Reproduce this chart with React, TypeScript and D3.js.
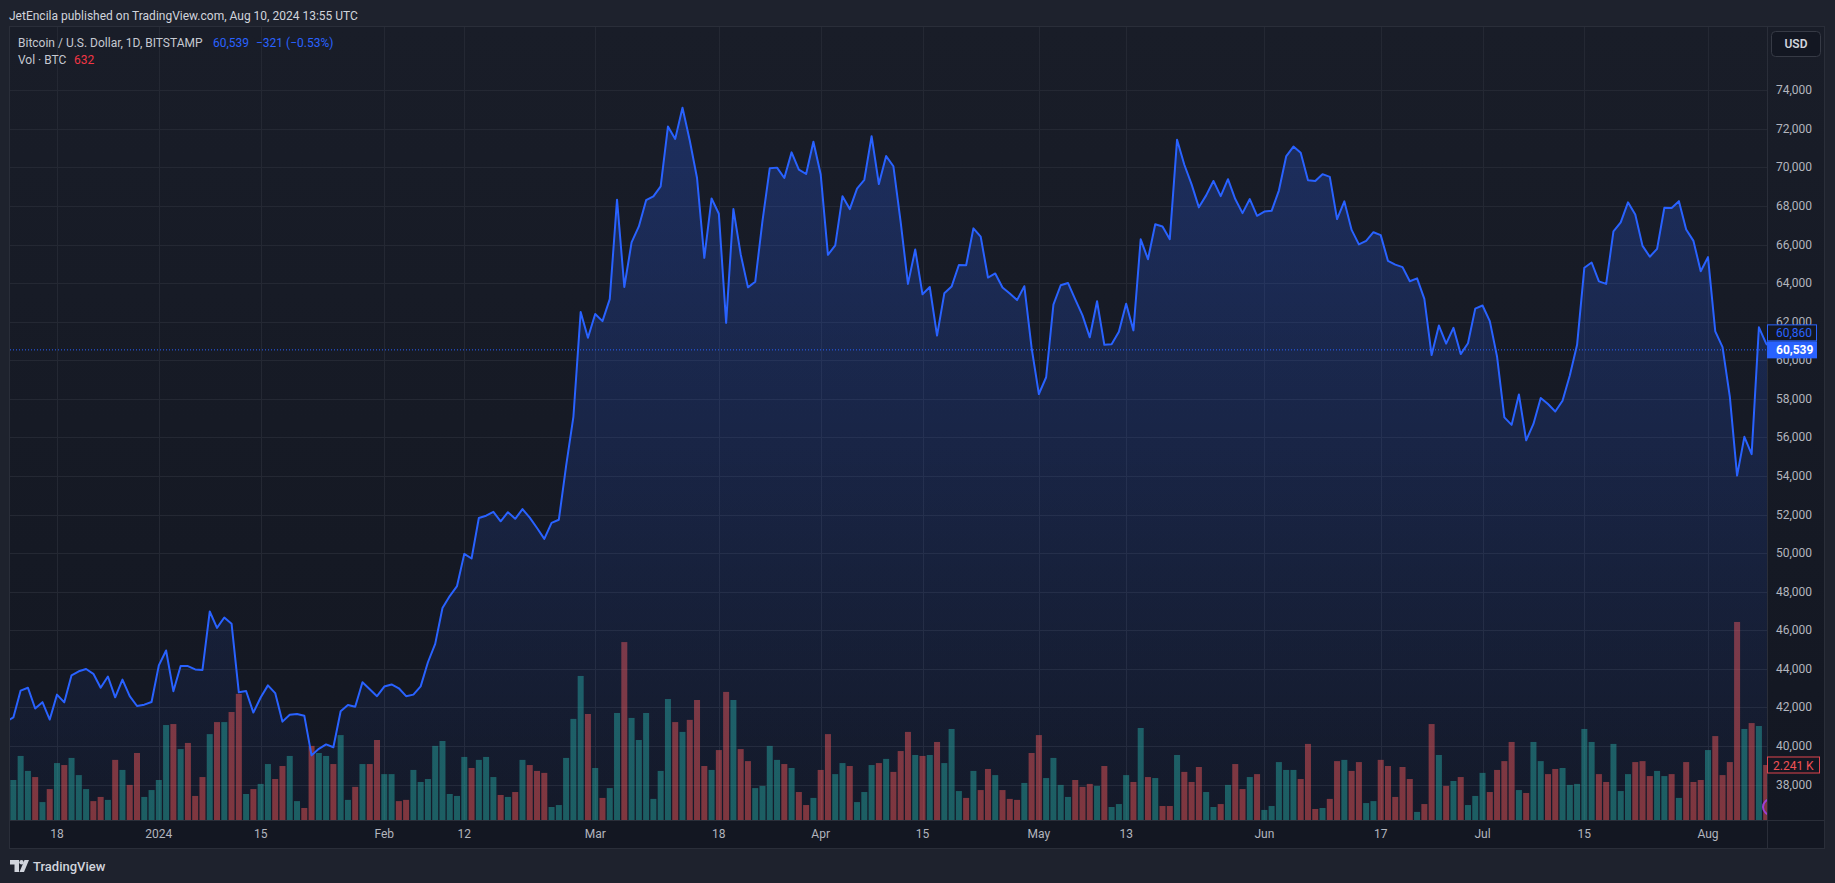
import React from 'react';
import * as d3 from 'd3';

// daily closes, BITSTAMP BTCUSD, Dec 11 2023 .. Aug 10 2024
const closes: number[] = [
  // Dec
  41250, 41480, 42870, 43020, 41940, 42270, 41370, 42660, 42260, 43660, 43870, 43990, 43740, 43020, 43600, 42520, 43440, 42580, 42070, 42140, 42280,
  // Jan
  44180, 44950, 42840, 44150, 44140, 43970, 43940, 46970, 46120, 46660, 46340, 42780, 42850, 41730, 42510, 43140, 42740, 41260, 41620, 41660, 41570, 39510, 39850, 40080, 39930, 41800, 42120, 42030, 43300, 42940, 42580,
  // Feb
  43080, 43190, 42990, 42580, 42660, 43090, 44340, 45290, 47150, 47770, 48290, 49960, 49720, 51820, 51940, 52140, 51650, 52120, 51780, 52280, 51840, 51300, 50740, 51570, 51730, 54520, 57060, 62500, 61170,
  // Mar
  62400, 62030, 63170, 68330, 63800, 66110, 66940, 68300, 68500, 69020, 72120, 71480, 73100, 71400, 69450, 65310, 68390, 67600, 61940, 67840, 65500, 63780, 64070, 67230, 69960, 69990, 69450, 70780, 69890, 69660, 71330,
  // Apr
  69650, 65470, 65960, 68510, 67840, 68900, 69360, 71620, 69140, 70590, 70060, 67160, 63960, 65740, 63420, 63800, 61280, 63470, 63820, 64940, 64930, 66840, 66410, 64290, 64500, 63770, 63460, 63120, 63840, 60640,
  // May
  58250, 59120, 62890, 63890, 64010, 63160, 62330, 61190, 63060, 60800, 60830, 61480, 62930, 61550, 66270, 65240, 67050, 66940, 66280, 71440, 70140, 69120, 67930, 68550, 69300, 68510, 69390, 68360, 67630, 68360, 67490,
  // Jun
  67710, 67750, 68800, 70570, 71080, 70760, 69340, 69300, 69650, 69510, 67320, 68240, 66760, 66010, 66190, 66640, 66490, 65150, 64960, 64830, 64100, 64250, 63180, 60270, 61800, 60860, 61680, 60320, 60880, 62680,
  // Jul
  62840, 62030, 60180, 57040, 56650, 58230, 55850, 56700, 58040, 57730, 57340, 57900, 59210, 60800, 64800, 65070, 64090, 63960, 66680, 67150, 68190, 67560, 65930, 65370, 65780, 67910, 67900, 68250, 66780, 66190, 64620,
  // Aug
  65350, 61500, 60680, 58110, 54020, 56030, 55130, 61710, 60860, 60539,
];

// daily volume in BTC, same days
const volumes: number[] = [
  3260, 1630, 2610, 2000, 1750, 730, 1260, 2320, 2240, 2530, 1830, 1260, 770, 940, 820, 2450, 2040, 1430, 2730, 940, 1220,
  1630, 3870, 3910, 2890, 3140, 980, 1750, 3500, 3990, 3990, 4400, 5140, 1060, 1260, 1470, 2280, 1670, 2200, 2610, 770, 490, 3020, 2730, 2610, 2280, 3460, 820, 1350, 2280, 2280, 3260,
  1870, 1870, 770, 820, 2040, 1550, 1670, 3020, 3220, 1060, 980, 2570, 2120, 2450, 2570, 1750, 1020, 940, 1140, 2450, 2240, 2000, 1920, 530, 610, 2530, 4120, 5870, 4320,
  2120, 900, 1300, 4360, 7250, 4160, 3260, 4360, 860, 2000, 4930, 3990, 3590, 4080, 4890, 2200, 2040, 2850, 5220, 4890, 2890, 2400, 1300, 1390, 3020, 2450, 2280, 2120, 1140, 610, 900,
  2040, 3500, 1870, 2320, 2200, 730, 1140, 2240, 2320, 2490, 1960, 2810, 3590, 2650, 2610, 2650, 3180, 2320, 3710, 1180, 900, 2000, 1220, 2080, 1830, 1220, 860, 820, 1510, 2730,
  3460, 1710, 2530, 1430, 940, 1630, 1350, 1470, 1390, 2200, 530, 650, 1830, 1550, 3750, 1750, 1710, 570, 570, 2650, 1960, 1550, 2160, 1140, 530, 650, 1430, 2280, 1260, 1750, 1870,
  410, 570, 2360, 2040, 2040, 1670, 3100, 450, 490, 860, 2400, 2450, 2000, 2360, 690, 770, 2450, 2200, 940, 2160, 1670, 330, 650, 3910, 2650, 1390, 1590, 1750, 610, 980,
  1920, 1140, 2040, 2400, 3180, 1220, 1100, 3180, 2400, 1870, 2080, 2120, 1430, 1470, 3710, 3180, 1870, 1550, 3100, 1180, 1870, 2360, 2400, 1790, 2000, 1790, 1870, 900, 2360, 1550, 1630,
  2850, 3420, 1830, 2360, 8070, 3710, 3950, 3830, 2241, 632,
];

const priceTicks = [38000, 40000, 42000, 44000, 46000, 48000, 50000, 52000, 54000, 56000, 58000, 60000, 62000, 64000, 66000, 68000, 70000, 72000, 74000];

const timeTicks: [string, string][] = [
  ['2023-12-18', '18'], ['2024-01-01', '2024'], ['2024-01-15', '15'], ['2024-02-01', 'Feb'],
  ['2024-02-12', '12'], ['2024-03-01', 'Mar'], ['2024-03-18', '18'], ['2024-04-01', 'Apr'],
  ['2024-04-15', '15'], ['2024-05-01', 'May'], ['2024-05-13', '13'], ['2024-06-01', 'Jun'],
  ['2024-06-17', '17'], ['2024-07-01', 'Jul'], ['2024-07-15', '15'], ['2024-08-01', 'Aug'],
];

const prevCloseMarker = 60860;

interface Bar {
  date: Date;
  close: number;
  volume: number;
  up: boolean;
}

const W = 1835;
const H = 883;
const FONT = 'Roboto, "Noto Sans", sans-serif';

// pane geometry
const paneLeft = 10;
const paneTop = 27;
const plotRight = 1767;
const paneRight = 1824;
const plotBottom = 820;
const paneBottom = 848;

const startDay = Date.UTC(2023, 11, 11);
const bars: Bar[] = closes.map((c, i) => ({
  date: new Date(startDay + i * 86400000),
  close: c,
  volume: volumes[i],
  up: i > 0 && c > closes[i - 1],
}));

const App: React.FC = () => {
  const x = d3.scaleUtc()
    .domain([new Date('2023-12-18T00:00:00Z'), new Date('2024-08-01T00:00:00Z')])
    .range([57, 1708]);
  const y = d3.scaleLinear().domain([38000, 74000]).range([784.5, 90.3]);
  const yVol = d3.scaleLinear().domain([0, 10000]).range([plotBottom, plotBottom - 245.4]);

  const line = d3.line<Bar>().x(d => x(d.date)).y(d => y(d.close));
  const area = d3.area<Bar>().x(d => x(d.date)).y0(plotBottom).y1(d => y(d.close));

  const fmt = d3.format(',');
  const last = closes[closes.length - 1];
  const prev = closes[closes.length - 2];
  const chg = last - prev;
  const pct = (chg / prev) * 100;
  const minus = (v: number) => (v < 0 ? '\u2212' : '+') + Math.abs(v).toFixed(2);
  const chgText = `${chg < 0 ? '\u2212' : '+'}${fmt(Math.abs(chg))} (${minus(pct)}%)`;
  const lastVol = volumes[volumes.length - 1];
  const prevVol = volumes[volumes.length - 2];
  const topY = y(d3.max(closes) as number);
  const barW = 6;

  return (
    <svg width={W} height={H} style={{ position: 'absolute', left: 0, top: 0, display: 'block' }} fontFamily={FONT}>
      <defs>
        <linearGradient id="paneBg" x1="0" y1={paneTop} x2="0" y2={plotBottom} gradientUnits="userSpaceOnUse">
          <stop offset="0" stopColor="#191d28" />
          <stop offset="1" stopColor="#131722" />
        </linearGradient>
        <linearGradient id="areaFill" x1="0" y1={topY} x2="0" y2={plotBottom} gradientUnits="userSpaceOnUse">
          <stop offset="0" stopColor="#2962ff" stopOpacity={0.26} />
          <stop offset="1" stopColor="#2962ff" stopOpacity={0.03} />
        </linearGradient>
        <clipPath id="plotClip">
          <rect x={paneLeft} y={paneTop} width={plotRight - paneLeft} height={plotBottom - paneTop} />
        </clipPath>
      </defs>

      {/* page + header */}
      <rect x={0} y={0} width={W} height={H} fill="#1e222d" />
      <text x={9} y={19.5} fontSize={12} fill="#d1d4dc">JetEncila published on TradingView.com, Aug 10, 2024 13:55 UTC</text>

      {/* pane */}
      <rect x={paneLeft} y={paneTop} width={paneRight - paneLeft} height={paneBottom - paneTop} fill="url(#paneBg)" />
      <rect x={paneLeft} y={plotBottom} width={paneRight - paneLeft} height={paneBottom - plotBottom} fill="#131722" />

      {/* grid */}
      <g stroke="#242833" strokeWidth={1}>
        {priceTicks.map(p => (
          <line key={p} x1={paneLeft} x2={plotRight} y1={Math.round(y(p)) + 0.5} y2={Math.round(y(p)) + 0.5} />
        ))}
        {timeTicks.map(([d]) => {
          const xx = Math.round(x(new Date(d + 'T00:00:00Z'))) + 0.5;
          return <line key={d} x1={xx} x2={xx} y1={paneTop} y2={plotBottom} />;
        })}
      </g>

      <g clipPath="url(#plotClip)">
        {/* volume */}
        {bars.map((b, i) => (
          <rect
            key={i}
            x={x(b.date) - barW / 2}
            y={yVol(b.volume)}
            width={barW}
            height={plotBottom - yVol(b.volume)}
            fill={b.up ? 'rgba(38,166,154,0.5)' : 'rgba(239,83,80,0.5)'}
          />
        ))}
        {/* price area */}
        <path d={area(bars) || ''} fill="url(#areaFill)" />
        <path d={line(bars) || ''} fill="none" stroke="#2962ff" strokeWidth={2} strokeLinejoin="round" />
        {/* last price line */}
        <line x1={paneLeft} x2={plotRight} y1={y(last)} y2={y(last)} stroke="#2962ff" strokeWidth={1} strokeDasharray="1 2" />
        <circle cx={plotRight + 4} cy={807} r={8} fill="none" stroke="#9c3fd6" strokeWidth={2} />
      </g>

      {/* separators + frame */}
      <g stroke="#2a2e39" strokeWidth={1} fill="none">
        <line x1={plotRight + 0.5} x2={plotRight + 0.5} y1={paneTop} y2={paneBottom} />
        <line x1={paneLeft} x2={paneRight} y1={plotBottom + 0.5} y2={plotBottom + 0.5} />
        <rect x={paneLeft - 0.5} y={paneTop - 0.5} width={paneRight - paneLeft + 1} height={paneBottom - paneTop + 1} stroke="#2a2e39" />
      </g>

      {/* price axis labels */}
      <g fontSize={12} fill="#b2b5be">
        {priceTicks.map(p => (
          <text key={p} x={1776} y={y(p) + 4}>{fmt(p)}</text>
        ))}
      </g>

      {/* time axis labels */}
      <g fontSize={12} fill="#b2b5be" textAnchor="middle">
        {timeTicks.map(([d, label]) => (
          <text key={d} x={x(new Date(d + 'T00:00:00Z'))} y={838}>{label}</text>
        ))}
      </g>

      {/* axis markers */}
      <g fontSize={12}>
        <rect x={plotRight + 0.5} y={y(last) - 25} width={49} height={16} fill="#131722" stroke="#2962ff" strokeWidth={1} />
        <text x={1776} y={y(last) - 12.5} fill="#2962ff">{fmt(prevCloseMarker)}</text>
        <rect x={plotRight} y={y(last) - 8.5} width={50} height={17} fill="#2962ff" />
        <text x={1776} y={y(last) + 4.5} fill="#ffffff" fontWeight={700}>{fmt(last)}</text>
        <rect x={plotRight + 0.5} y={yVol(prevVol) - 8} width={52} height={16} fill="#131722" stroke="#e0464e" strokeWidth={1} />
        <text x={1773} y={yVol(prevVol) + 4.5} fill="#f05156">{(prevVol / 1000).toFixed(3)} K</text>
      </g>

      {/* currency button */}
      <rect x={1771.5} y={31.5} width={49} height={25} rx={4} fill="#131722" stroke="#363a45" />
      <text x={1796} y={48} fontSize={12} fontWeight={600} fill="#d1d4dc" textAnchor="middle">USD</text>

      {/* legend */}
      <g fontSize={12}>
        <text x={18} y={46.5} fill="#c6c9d1">Bitcoin / U.S. Dollar, 1D, BITSTAMP</text>
        <text x={213} y={46.5} fill="#2962ff">{fmt(last)}</text>
        <text x={256} y={46.5} fill="#2962ff">{chgText}</text>
        <text x={18} y={63.5} fill="#c6c9d1">Vol · BTC</text>
        <text x={74} y={63.5} fill="#f23645">{lastVol}</text>
      </g>

      {/* footer logo */}
      <g fill="#d1d4dc">
        <path d="M10,860 h9 v12 h-4.5 v-7.5 h-4.5 z" />
        <circle cx={21.5} cy={862.3} r={2.2} />
        <path d="M24.5,860 h4.5 l-5,12 h-4.5 z" />
        <text x={33} y={871} fontSize={13} fontWeight={500}>TradingView</text>
      </g>
    </svg>
  );
};

export default App;
